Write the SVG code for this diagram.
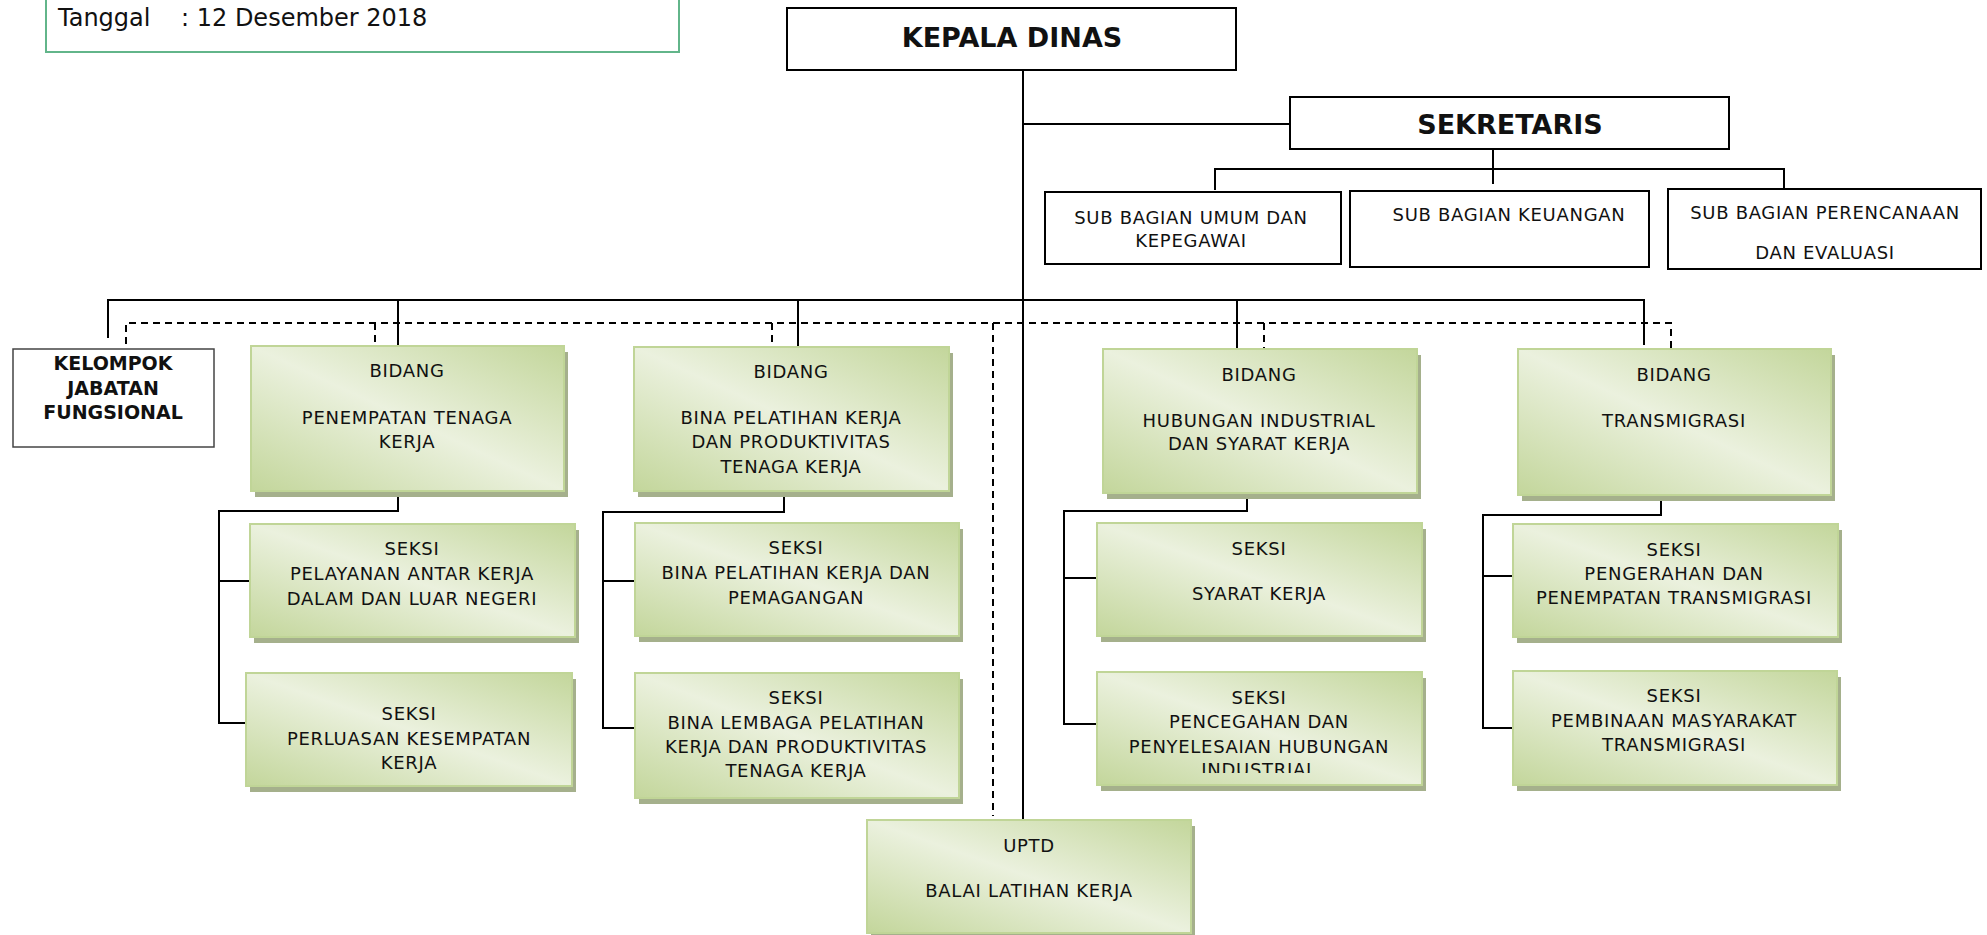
<svg xmlns="http://www.w3.org/2000/svg" width="1987" height="935" viewBox="0 0 1987 935">
<style>
.ln{fill:none;stroke:#000;stroke-width:2}
.dl{fill:none;stroke:#000;stroke-width:2;stroke-dasharray:7 5}
.wb{fill:#fff;stroke:#000;stroke-width:2}
.gb{fill:url(#gg);stroke:#c0d597;stroke-width:2}
.sh{fill:#a5b08c}
text{font-family:"DejaVu Sans","Verdana",sans-serif;fill:#111;text-anchor:middle}
.t{font-size:18px;letter-spacing:0.7px}
.b{font-weight:bold}
</style>
<defs>
<linearGradient id="gg" x1="1" y1="0" x2="0" y2="1">
<stop offset="0" stop-color="#c3d69b"/>
<stop offset="0.5" stop-color="#ebf1de"/>
<stop offset="1" stop-color="#c3d69b"/>
</linearGradient>
<clipPath id="clipInd"><rect x="1097" y="672" width="325" height="101"/></clipPath>
</defs>
<rect width="1987" height="935" fill="#fff"/>

<g id="connectors">
<path class="ln" d="M1023 70V820M1023 124H1290M1493 149V184M1215 190V169H1784V188"/>
<path class="ln" d="M108 338V300H1644V345M398 300V346M798 300V347M1237 300V349"/>
<path class="dl" d="M126 344V323H1671V348M375 323V345M772 323V347M993 323V816M1264 323V348"/>
<path class="ln" d="M398 491V511H219V723H247M219 581H249"/>
<path class="ln" d="M784 491V512H603V728H634M603 581H634"/>
<path class="ln" d="M1247 493V511H1064V724H1097M1064 578H1097"/>
<path class="ln" d="M1661 495V515H1483V728H1513M1483 576H1513"/>
</g>

<g id="tanggal">
<rect x="46" y="-2" width="633" height="54" fill="#fff" stroke="#62b58a" stroke-width="2"/>
<text x="58" y="26" style="font-size:24px;text-anchor:start">Tanggal</text>
<text x="181" y="26" style="font-size:24px;text-anchor:start">: 12 Desember 2018</text>
</g>

<g id="kepala-dinas">
<rect class="wb" x="787" y="8" width="449" height="62"/>
<text class="b" x="1012" y="47" style="font-size:27px">KEPALA DINAS</text>
</g>

<g id="sekretaris">
<rect class="wb" x="1290" y="97" width="439" height="52"/>
<text class="b" x="1510" y="134" style="font-size:27px">SEKRETARIS</text>
</g>

<g id="sub-umum">
<rect class="wb" x="1045" y="192" width="296" height="72"/>
<text class="t" x="1191" y="223.5">SUB BAGIAN UMUM DAN</text>
<text class="t" x="1191" y="246.5">KEPEGAWAI</text>
</g>

<g id="sub-keuangan">
<rect class="wb" x="1350" y="191" width="299" height="76"/>
<text class="t" x="1509" y="220.5">SUB BAGIAN KEUANGAN</text>
</g>

<g id="sub-perencanaan">
<rect class="wb" x="1668" y="189" width="313" height="80"/>
<text class="t" x="1825" y="218.5">SUB BAGIAN PERENCANAAN</text>
<text class="t" x="1825" y="258.5">DAN EVALUASI</text>
</g>

<g id="kelompok">
<rect x="13" y="349" width="201" height="98" fill="#fff" stroke="#444" stroke-width="1.5"/>
<text class="b" x="113" y="369.5" style="font-size:19px">KELOMPOK</text>
<text class="b" x="113" y="394.5" style="font-size:19px">JABATAN</text>
<text class="b" x="113" y="418.5" style="font-size:19px">FUNGSIONAL</text>
</g>

<g id="bidang-penempatan">
<rect class="sh" x="255" y="352" width="313" height="145"/>
<rect class="gb" x="251" y="346" width="313" height="145"/>
<text class="t" x="407" y="376.5">BIDANG</text>
<text class="t" x="407" y="423.5">PENEMPATAN TENAGA</text>
<text class="t" x="407" y="447.5">KERJA</text>
</g>

<g id="bidang-bina">
<rect class="sh" x="638" y="353" width="315" height="144"/>
<rect class="gb" x="634" y="347" width="315" height="144"/>
<text class="t" x="791" y="377.5">BIDANG</text>
<text class="t" x="791" y="423.5">BINA PELATIHAN KERJA</text>
<text class="t" x="791" y="447.5">DAN PRODUKTIVITAS</text>
<text class="t" x="791" y="472.5">TENAGA KERJA</text>
</g>

<g id="bidang-hubungan">
<rect class="sh" x="1107" y="355" width="314" height="144"/>
<rect class="gb" x="1103" y="349" width="314" height="144"/>
<text class="t" x="1259" y="380.5">BIDANG</text>
<text class="t" x="1259" y="426.5">HUBUNGAN INDUSTRIAL</text>
<text class="t" x="1259" y="449.5">DAN SYARAT KERJA</text>
</g>

<g id="bidang-transmigrasi">
<rect class="sh" x="1522" y="355" width="313" height="146"/>
<rect class="gb" x="1518" y="349" width="313" height="146"/>
<text class="t" x="1674" y="380.5">BIDANG</text>
<text class="t" x="1674" y="426.5">TRANSMIGRASI</text>
</g>

<g id="seksi-pelayanan">
<rect class="sh" x="254" y="530" width="325" height="113"/>
<rect class="gb" x="250" y="524" width="325" height="113"/>
<text class="t" x="412" y="554.5">SEKSI</text>
<text class="t" x="412" y="579.5">PELAYANAN ANTAR KERJA</text>
<text class="t" x="412" y="604.5">DALAM DAN LUAR NEGERI</text>
</g>

<g id="seksi-perluasan">
<rect class="sh" x="250" y="679" width="326" height="113"/>
<rect class="gb" x="246" y="673" width="326" height="113"/>
<text class="t" x="409" y="719.5">SEKSI</text>
<text class="t" x="409" y="744.5">PERLUASAN KESEMPATAN</text>
<text class="t" x="409" y="768.5">KERJA</text>
</g>

<g id="seksi-bina-pelatihan">
<rect class="sh" x="639" y="529" width="324" height="113"/>
<rect class="gb" x="635" y="523" width="324" height="113"/>
<text class="t" x="796" y="553.5">SEKSI</text>
<text class="t" x="796" y="578.5">BINA PELATIHAN KERJA DAN</text>
<text class="t" x="796" y="603.5">PEMAGANGAN</text>
</g>

<g id="seksi-bina-lembaga">
<rect class="sh" x="639" y="679" width="324" height="125"/>
<rect class="gb" x="635" y="673" width="324" height="125"/>
<text class="t" x="796" y="703.5">SEKSI</text>
<text class="t" x="796" y="728.5">BINA LEMBAGA PELATIHAN</text>
<text class="t" x="796" y="752.5">KERJA DAN PRODUKTIVITAS</text>
<text class="t" x="796" y="776.5">TENAGA KERJA</text>
</g>

<g id="seksi-syarat">
<rect class="sh" x="1101" y="529" width="325" height="113"/>
<rect class="gb" x="1097" y="523" width="325" height="113"/>
<text class="t" x="1259" y="554.5">SEKSI</text>
<text class="t" x="1259" y="599.5">SYARAT KERJA</text>
</g>

<g id="seksi-pencegahan">
<rect class="sh" x="1101" y="678" width="325" height="113"/>
<rect class="gb" x="1097" y="672" width="325" height="113"/>
<g clip-path="url(#clipInd)">
<text class="t" x="1259" y="703.5">SEKSI</text>
<text class="t" x="1259" y="727.5">PENCEGAHAN DAN</text>
<text class="t" x="1259" y="752.5">PENYELESAIAN HUBUNGAN</text>
<text class="t" x="1259" y="776">INDUSTRIAL</text>
</g>
</g>

<g id="seksi-pengerahan">
<rect class="sh" x="1517" y="530" width="325" height="113"/>
<rect class="gb" x="1513" y="524" width="325" height="113"/>
<text class="t" x="1674" y="555.5">SEKSI</text>
<text class="t" x="1674" y="579.5">PENGERAHAN DAN</text>
<text class="t" x="1674" y="603.5">PENEMPATAN TRANSMIGRASI</text>
</g>

<g id="seksi-pembinaan">
<rect class="sh" x="1517" y="677" width="324" height="114"/>
<rect class="gb" x="1513" y="671" width="324" height="114"/>
<text class="t" x="1674" y="701.5">SEKSI</text>
<text class="t" x="1674" y="726.5">PEMBINAAN MASYARAKAT</text>
<text class="t" x="1674" y="750.5">TRANSMIGRASI</text>
</g>

<g id="uptd">
<rect class="sh" x="871" y="826" width="324" height="113"/>
<rect class="gb" x="867" y="820" width="324" height="113"/>
<text class="t" x="1029" y="851.5">UPTD</text>
<text class="t" x="1029" y="896.5">BALAI LATIHAN KERJA</text>
</g>
</svg>
